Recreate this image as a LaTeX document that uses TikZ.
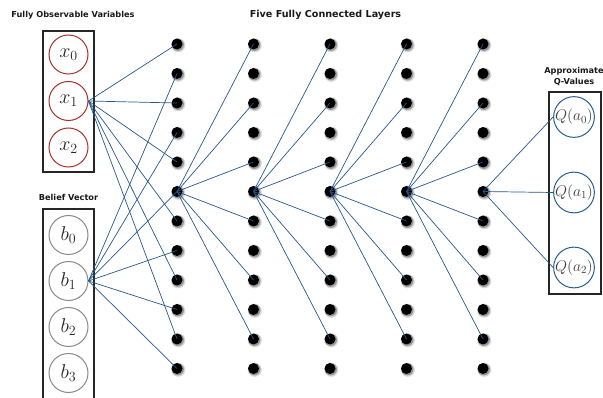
\RequirePackage{fix-cm}
\documentclass[tikz,border=0pt]{standalone}
\usepackage{fontspec}
\newfontfamily\labfont{DejaVu Sans}
\usetikzlibrary{shadows}
\definecolor{linecol}{HTML}{26578C}
\definecolor{redcirc}{HTML}{A8322A}
\definecolor{graycirc}{HTML}{8A8A8A}
\definecolor{bluecirc}{HTML}{2A5D8F}
\begin{document}
\begin{tikzpicture}[x=1pt,y=-1pt,
  dotnode/.style={circle, fill=black, minimum size=11pt, inner sep=0pt,
    drop shadow={shadow xshift=1pt, shadow yshift=-1pt, shadow scale=1.28, opacity=0.15, fill=black},
    drop shadow={shadow xshift=0.8pt, shadow yshift=-0.8pt, shadow scale=1.1, opacity=0.3, fill=black}},
  conn/.style={draw=linecol, line width=0.7pt},
  boxline/.style={draw=black!85, line width=1.2pt},
  invar/.style={circle, draw=#1, line width=1pt, minimum size=39pt, inner sep=0pt, fill=white,
    text=black!85, font=\fontsize{20}{24}\selectfont},
  qvar/.style={circle, draw=bluecirc, line width=1pt, minimum size=40pt, inner sep=0pt, fill=white,
    text=black!75, font=\fontsize{15.5}{18}\selectfont},
  ttl/.style={inner sep=0pt, text=black!90, font=\labfont\bfseries\fontsize{8.2}{11}\selectfont},
]
\useasboundingbox (0,0) rectangle (603,398);
\clip (0,0) rectangle (603,398);

% titles
\node[ttl] (t1) at (73,15) {Fully Observable Variables};
\node[ttl, font=\labfont\bfseries\fontsize{9.6}{11}\selectfont] (t2) at (325.5,15) {Five Fully Connected Layers};
\node[ttl] (t3) at (68.5,197) {Belief Vector};
\node[ttl, align=center] (t4) at (574,76.5) {Approximate\\Q-Values};

% boxes
\draw[boxline] (43,31) rectangle (94,172);
\draw[boxline] (43,209) rectangle (94,412);
\draw[boxline] (549,92) rectangle (601,294);

% input circles
\node[invar=redcirc] (x0) at (68.5,54.5) {$x_0$};
\node[invar=redcirc] (x1) at (68.5,101) {$x_1$};
\node[invar=redcirc] (x2) at (68.5,147.5) {$x_2$};
\node[invar=graycirc] (b0) at (68.5,235) {$b_0$};
\node[invar=graycirc] (b1) at (68.5,281) {$b_1$};
\node[invar=graycirc] (b2) at (68.5,327) {$b_2$};
\node[invar=graycirc] (b3) at (68.5,373) {$b_3$};

% output circles
\node[qvar] (q0) at (574,117) {$Q(a_0)$};
\node[qvar] (q1) at (574,192.5) {$Q(a_1)$};
\node[qvar] (q2) at (574,267.5) {$Q(a_2)$};

% hidden layer dots
\foreach \c in {1,...,5} {
  \foreach \r in {0,...,11} {
    \node[dotnode] (L\c-\r) at ({177+76.5*(\c-1)}, {44+29.5*\r}) {};
  }
}

% connections
\foreach \r in {0,2,...,10} {
  \draw[conn] (x1.east) -- (L1-\r.center);
}
\foreach \r in {1,3,...,11} {
  \draw[conn] (b1.east) -- (L1-\r.center);
}
\foreach \c in {1,...,4} {
  \pgfmathtruncatemacro\nx{\c+1}
  \foreach \r in {0,2,...,10} {
    \draw[conn] (L\c-5.center) -- (L\nx-\r.center);
  }
}
\foreach \q in {0,1,2} {
  \draw[conn] (L5-5.center) -- (q\q.west);
}
\end{tikzpicture}
\end{document}
